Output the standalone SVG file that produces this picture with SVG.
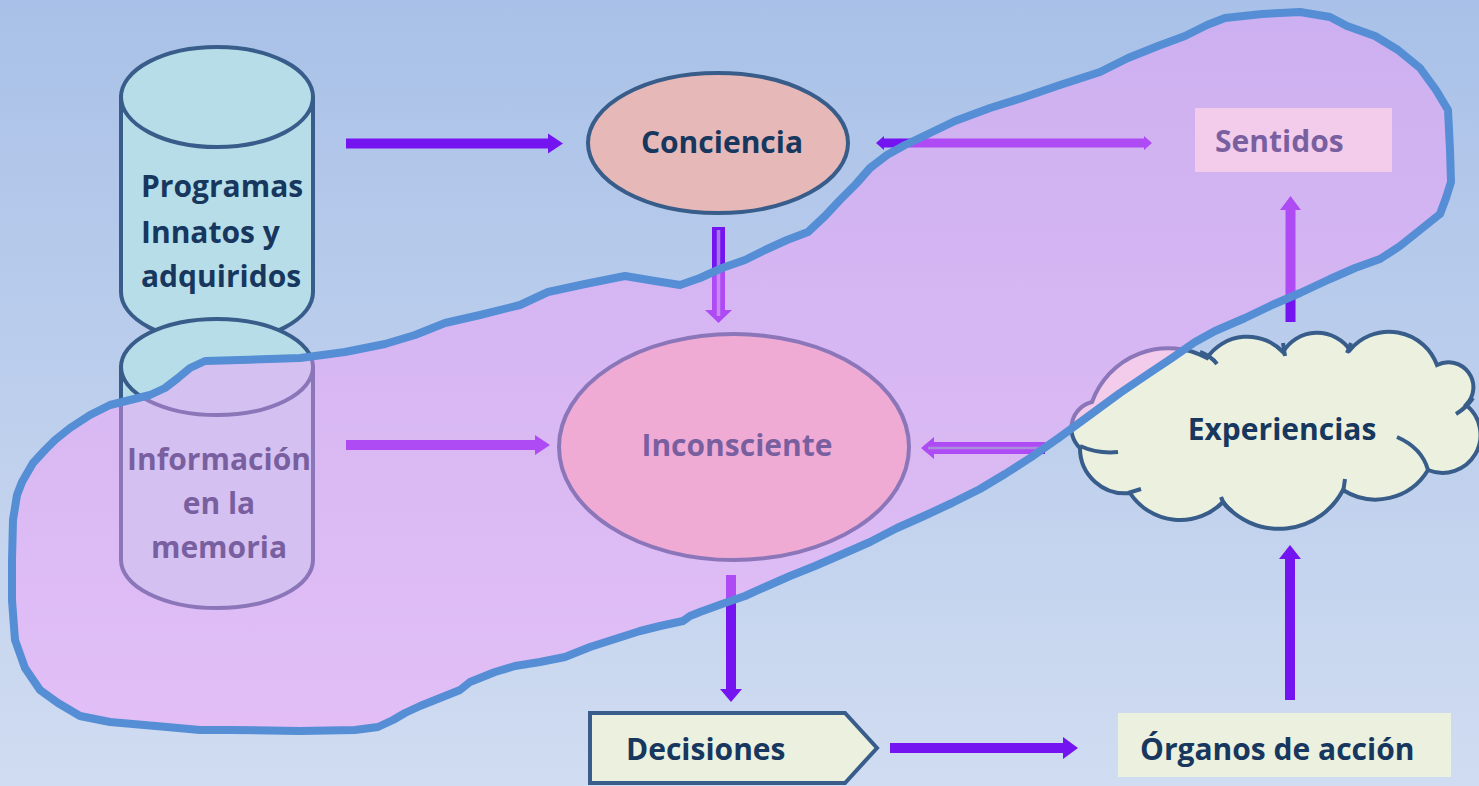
<svg xmlns="http://www.w3.org/2000/svg" width="1479" height="786" viewBox="0 0 1479 786">
  <defs>
    <linearGradient id="bg" x1="0" y1="0" x2="0" y2="1">
      <stop offset="0" stop-color="#a9c1e8"/>
      <stop offset="1" stop-color="#d0dcf1"/>
    </linearGradient>
    <path id="blob" d="M1225,18 L1262,14 L1300,12 L1330,17 L1347,26 L1375,36 L1398,50 L1420,68 L1436,90 L1448,110 L1450,150 L1451,182 L1446,198 L1440,214 L1420,230 L1400,246 L1380,259 L1355,268 L1330,279 L1300,293 L1272,305 L1245,318 L1215,331 L1195,342 L1172,358 L1148,374 L1120,393 L1090,415 L1060,437 L1030,458 L1005,474 L980,489 L952,503 L924,516 L897,528 L870,542 L845,553 L815,566 L790,576 L765,587 L745,596 L722,604 L700,612 L690,616 L683,621 L660,626 L640,631 L615,639 L590,647 L565,657 L540,662 L515,666 L495,672 L470,682 L460,690 L440,698 L420,706 L405,713 L393,720 L378,727 L355,730 L300,731 L230,730 L200,730 L167,727 L110,722 L80,716 L58,703 L40,690 L25,668 L15,640 L12,600 L12,560 L13,520 L17,495 L22,482 L33,463 L45,450 L55,440 L70,428 L90,415 L110,405 L130,400 L150,395 L165,388 L178,378 L190,368 L205,361 L240,360 L300,358 L345,352 L385,344 L415,335 L445,323 L480,315 L520,305 L548,292 L585,284 L625,276 L655,281 L680,285 L700,278 L722,268 L745,260 L765,250 L787,240 L808,232 L825,216 L840,200 L856,184 L870,168 L887,155 L905,145 L928,134 L955,121 L990,108 L1022,98 L1060,85 L1100,72 L1128,58 L1158,46 L1185,36 L1207,25 Z"/>
    <style>
      .cyl { fill: #b7dee8; stroke: #385d8a; stroke-width: 4; }
      .ell { fill: #e6b9b8; stroke: #385d8a; stroke-width: 4; }
      .box { fill: #ebf1de; }
      .boxs { fill: #ebf1de; stroke: #385d8a; stroke-width: 4; stroke-linejoin: miter; }
      .cusp { fill: none; stroke: #385d8a; stroke-width: 4; stroke-linecap: butt; }
      .lbl { font-family: "Open Sans", "Liberation Sans", sans-serif; font-weight: 700; font-size: 30px; fill: #17375e; }
      .arr { fill: #7414f0; }
      .mid { stroke: #6f86c8; stroke-width: 2.5; fill: none; }
      .blobfill { fill: #ff99fc; fill-opacity: 0.42; stroke: none; }
      .blobline { fill: none; stroke: #558ed5; stroke-width: 8; stroke-linejoin: round; stroke-linecap: round; }
    </style>
  </defs>

  <rect x="0" y="0" width="1479" height="786" fill="url(#bg)"/>

  <g id="programas">
    <path class="cyl" d="M121,97 L121,292 A96,50 0 0 0 313,292 L313,97 Z"/>
    <ellipse class="cyl" cx="217" cy="97" rx="96" ry="50"/>
    <text class="lbl" x="141" y="197">Programas</text>
    <text class="lbl" x="141" y="243">Innatos y</text>
    <text class="lbl" x="141" y="287">adquiridos</text>
  </g>

  <g id="informacion">
    <path class="cyl" d="M121,367 L121,560 A96,48 0 0 0 313,560 L313,367 Z"/>
    <ellipse class="cyl" cx="217" cy="367" rx="96" ry="48"/>
    <text class="lbl" x="219" y="470" text-anchor="middle">Información</text>
    <text class="lbl" x="219" y="514" text-anchor="middle">en la</text>
    <text class="lbl" x="219" y="558" text-anchor="middle">memoria</text>
  </g>

  <g id="conciencia">
    <ellipse class="ell" cx="718" cy="143" rx="130" ry="70"/>
    <text class="lbl" x="722" y="153" text-anchor="middle">Conciencia</text>
  </g>

  <g id="inconsciente">
    <ellipse class="ell" cx="734" cy="447" rx="175" ry="113"/>
    <text class="lbl" x="737" y="456" text-anchor="middle">Inconsciente</text>
  </g>

  <g id="sentidos">
    <rect class="box" x="1195" y="108" width="197" height="64"/>
    <text class="lbl" x="1215" y="152">Sentidos</text>
  </g>

  <g id="experiencias">
    <path class="boxs" d="M1130,493 A45,45 0 0 1 1080,448 A27,27 0 0 1 1092,402 A81,81 0 0 1 1207,358 A49,49 0 0 1 1283,352 A40,40 0 0 1 1350,350 A51,51 0 0 1 1437,365 A25,25 0 0 1 1466,405 A38,38 0 0 1 1428,470 A61,61 0 0 1 1343,490 A72,72 0 0 1 1223,502 A60,60 0 0 1 1130,493 Z"/>
    <path class="cusp" d="M1080,446 Q1098,454 1118,452"/>
    <path class="cusp" d="M1200,352 Q1211,356 1217,364"/>
    <path class="cusp" d="M1283,343 L1285,356"/>
    <path class="cusp" d="M1351,343 L1347,353"/>
    <path class="cusp" d="M1473,398 Q1466,408 1456,414"/>
    <path class="cusp" d="M1397,437 Q1422,448 1428,470"/>
    <path class="cusp" d="M1345,479 L1343,493"/>
    <path class="cusp" d="M1221,497 Q1224,506 1232,511"/>
    <path class="cusp" d="M1141,489 L1128,493"/>
    <text class="lbl" x="1282" y="440" text-anchor="middle">Experiencias</text>
  </g>

  <g id="decisiones">
    <path class="boxs" d="M590,713 L845,713 L877,748 L845,783 L590,783 Z"/>
    <text class="lbl" x="626" y="760">Decisiones</text>
  </g>

  <g id="organos">
    <rect class="box" x="1118" y="713" width="333" height="64"/>
    <text class="lbl" x="1140" y="760">Órganos de acción</text>
  </g>

  <g id="connectors">
    <path class="arr" d="M346,138.5 L548,138.5 L548,133.5 L563,143.5 L548,153.5 L548,148.5 L346,148.5 Z"/>
    <path class="arr" d="M346,440 L535,440 L535,435 L550,445 L535,455 L535,450 L346,450 Z"/>
    <path class="arr" d="M712,227 L725,227 L725,310 L732,310 L718.5,323 L705,310 L712,310 Z"/>
    <path d="M718.5,230 L718.5,316" stroke="#a77ae8" stroke-width="3.5" fill="none"/>
    <path class="arr" d="M1045,442 L1045,454 L934,454 L934,459 L921,448 L934,437 L934,442 Z"/>
    <path class="mid" d="M1041,448 L928,448"/>
    <path class="arr" d="M876,143 L884,136 L884,138.5 L1144,138.5 L1144,136 L1152,143 L1144,150 L1144,147.5 L884,147.5 L884,150 Z"/>
    <path class="arr" d="M1285.5,322 L1285.5,210 L1280,210 L1290.5,196 L1301,210 L1295.5,210 L1295.5,322 Z"/>
    <path class="arr" d="M726,575 L736,575 L736,689 L742,689 L731,702 L720,689 L726,689 Z"/>
    <path class="arr" d="M890,743 L1063,743 L1063,737 L1078,748 L1063,759 L1063,753 L890,753 Z"/>
    <path class="arr" d="M1285,700 L1285,559 L1279,559 L1290,545 L1301,559 L1295,559 L1295,700 Z"/>
  </g>

  <g id="zona">
    <use href="#blob" class="blobfill"/>
    <use href="#blob" class="blobline"/>
  </g>
</svg>
